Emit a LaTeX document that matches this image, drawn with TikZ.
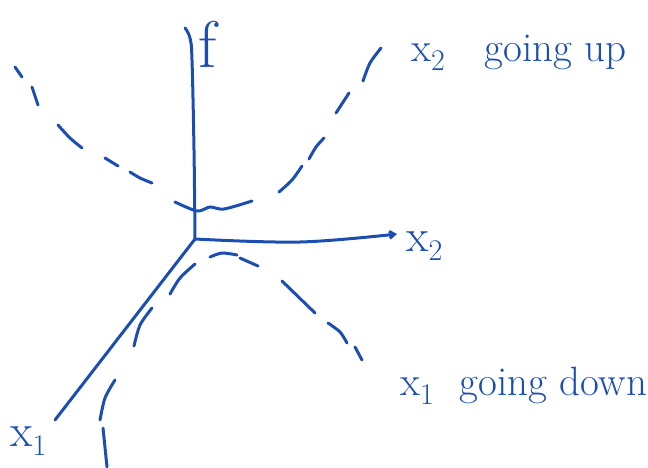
\documentclass[tikz,border=0pt]{standalone}
\usetikzlibrary{arrows.meta}
\definecolor{ink}{RGB}{28,78,178}
\newcommand{\lowsub}[1]{\raisebox{-9pt}{\fontsize{30}{30}\selectfont #1}}
\begin{document}
\begin{tikzpicture}[x=1pt,y=-1pt,
  ink line/.style={draw=ink,line width=3pt,line cap=round,line join=round},
  dash stroke/.style={draw=ink,line width=3pt,line cap=round},
  lbl/.style={text=ink,inner sep=0pt,font=\fontsize{41}{41}\selectfont},
  axlbl/.style={text=ink,inner sep=0pt,font=\fontsize{46}{46}\selectfont},
  flbl/.style={text=ink,inner sep=0pt,font=\fontsize{66}{66}\selectfont}]
\useasboundingbox (0,0) rectangle (648,467);
% axes
\coordinate (O) at (195,239);
\coordinate (ftop) at (185,28);
\coordinate (x2end) at (397,234);
\coordinate (x1end) at (55,420);
\draw[ink line] plot[smooth,tension=0.6] coordinates {(O) (194,150) (192,60) (190,38) (ftop)};
\draw[ink line,-{Straight Barb[length=5pt,width=7pt]}] plot[smooth,tension=0.6] coordinates {(O) (300,242) (x2end)};
\draw[ink line] (O) -- (x1end);
% axis labels
\node[flbl,anchor=base] (f) at (208,67) {f};
\node[axlbl,anchor=base west] (x2) at (406,251) {x\lowsub{2}};
\node[axlbl,anchor=base west] (x1) at (10,446) {x\lowsub{1}};
% upper dashed curve (x2 going up)
\draw[dash stroke] (15,67) -- (22,77);
\draw[dash stroke] (32,87) -- (38,105);
\draw[dash stroke] plot[smooth] coordinates {(58,125) (70,138) (82,148)};
\draw[dash stroke] (105,158) -- (118,166);
\draw[dash stroke] plot[smooth] coordinates {(130,172) (140,178) (152,183)};
\draw[dash stroke] plot[smooth] coordinates {(175,202) (197,211) (210,207) (224,209) (252,201)};
\draw[dash stroke] plot[smooth] coordinates {(279,192) (292,180) (302,166)};
\draw[dash stroke] plot[smooth] coordinates {(309,159) (316,147) (324,138)};
\draw[dash stroke] (336,113) -- (349,93);
\draw[dash stroke] plot[smooth] coordinates {(363,81) (370,63) (381,48)};
% lower dashed curve (x1 going down)
\draw[dash stroke] (103,428) -- (107,467);
\draw[dash stroke] plot[smooth] coordinates {(100,420) (105,398) (115,380)};
\draw[dash stroke] plot[smooth] coordinates {(134,346) (140,325) (152,308)};
\draw[dash stroke] plot[smooth] coordinates {(170,294) (180,278) (195,264)};
\draw[dash stroke] plot[smooth] coordinates {(210,257) (222,253) (237,255)};
\draw[dash stroke] (240,258) -- (258,266);
\draw[dash stroke] (282,281) -- (315,313);
\draw[dash stroke] plot[smooth] coordinates {(328,323) (340,332) (347,343)};
\draw[dash stroke] (355,347) -- (362,360);
% curve labels
\node[lbl,anchor=base west] (up) at (411,61) {x\lowsub{2}\hspace{40pt}going up};
\node[lbl,anchor=base west] (down) at (400,395) {x\lowsub{1}\hspace{26pt}going down};
\end{tikzpicture}
\end{document}
